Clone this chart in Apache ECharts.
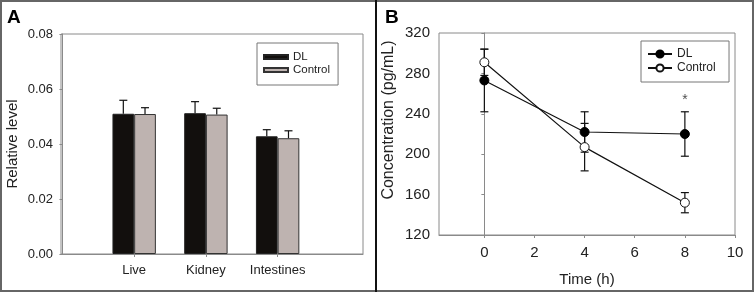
<!DOCTYPE html>
<html>
<head>
<meta charset="utf-8">
<script src="https://cdn.jsdelivr.net/npm/echarts@6/dist/echarts.min.js"></script>
<style>
  html, body { margin: 0; padding: 0; background: #fff; }
  #chart { width: 754px; height: 292px; }
</style>
</head>
<body>
<div id="chart"></div>
<script>
// panel A: relative level per tissue
const groups = ['Live', 'Kidney', 'Intestines'];
const groupPos = [1, 2, 3];
const dlLevel = [0.0510, 0.0512, 0.0428];
const dlLevelErr = [0.0049, 0.0042, 0.0024];
const ctrlLevel = [0.0509, 0.0507, 0.0421];
const ctrlLevelErr = [0.0023, 0.0023, 0.0027];

// panel B: concentration over time
const hours = [0, 4, 8];
const dlConc = [273, 222, 220];
const dlConcErr = [31, 20, 22];
const ctrlConc = [291, 207, 152];
const ctrlConcErr = [13, 23.5, 10];
const hourTicks = [0, 2, 4, 6, 8, 10];
const starAt = [8, 254];

const font = 'Liberation Sans, Arial, sans-serif';
const axisGray = '#8a8a8a';
const barW = 21.7;

let myChart = echarts.init(document.getElementById('chart'));

// one-sided error bar above a bar, shifted to the bar's centre
function upperErr(offset) {
  return function (params, api) {
    const p0 = api.coord([api.value(0), api.value(1)]);
    const p1 = api.coord([api.value(0), api.value(1) + api.value(2)]);
    const cx = p0[0] + offset;
    const st = { stroke: '#111', lineWidth: 1.2 };
    return {
      type: 'group',
      children: [
        { type: 'line', shape: { x1: cx, y1: p0[1], x2: cx, y2: p1[1] }, style: st },
        { type: 'line', shape: { x1: cx - 4, y1: p1[1], x2: cx + 4, y2: p1[1] }, style: st }
      ]
    };
  };
}

// two-sided error bar for the time course
function bothErr(params, api) {
  const x = api.value(0), y = api.value(1), e = api.value(2);
  const hi = api.coord([x, y + e]);
  const lo = api.coord([x, y - e]);
  const st = { stroke: '#111', lineWidth: 1.2 };
  return {
    type: 'group',
    children: [
      { type: 'line', shape: { x1: hi[0], y1: hi[1], x2: lo[0], y2: lo[1] }, style: st },
      { type: 'line', shape: { x1: hi[0] - 4, y1: hi[1], x2: hi[0] + 4, y2: hi[1] }, style: st },
      { type: 'line', shape: { x1: lo[0] - 4, y1: lo[1], x2: lo[0] + 4, y2: lo[1] }, style: st }
    ]
  };
}

const axisCommon = {
  axisLine: { show: true, lineStyle: { color: axisGray, width: 1 } },
  axisTick: { show: true, inside: false, length: 3, lineStyle: { color: axisGray } },
  axisLabel: { color: '#222', fontSize: 13, fontFamily: font },
  splitLine: { show: false },
  nameTextStyle: { color: '#222', fontSize: 15, fontFamily: font }
};

myChart.setOption({
  animation: false,
  backgroundColor: '#fff',
  textStyle: { fontFamily: font },
  title: [
    { text: 'A', left: 2, top: 3, textStyle: { fontSize: 19, fontWeight: 'bold', color: '#000', fontFamily: font } },
    { text: 'B', left: 380, top: 3, textStyle: { fontSize: 19, fontWeight: 'bold', color: '#000', fontFamily: font } }
  ],
  graphic: [
    { type: 'rect', shape: { x: 1, y: 1, width: 752, height: 290 }, style: { fill: 'none', stroke: '#666', lineWidth: 2 }, z: 100 },
    { type: 'line', shape: { x1: 376, y1: 0, x2: 376, y2: 292 }, style: { stroke: '#111', lineWidth: 2 }, z: 100 }
  ],
  legend: [
    {
      data: [
        { name: 'DL', icon: 'rect' },
        { name: 'Control', icon: 'rect' }
      ],
      orient: 'vertical',
      left: 257, top: 43,
      itemWidth: 24, itemHeight: 4, itemGap: 1,
      padding: [8, 8, 9, 6],
      borderColor: '#777', borderWidth: 1,
      textStyle: { fontSize: 11.5, color: '#222', fontFamily: font }
    },
    {
      data: ['DL ', 'Control '],
      orient: 'vertical',
      left: 641, top: 41,
      itemWidth: 24, itemHeight: 9, itemGap: 2,
      padding: [7, 10, 8, 6],
      borderColor: '#777', borderWidth: 1,
      textStyle: { fontSize: 12, color: '#222', fontFamily: font }
    }
  ],
  grid: [
    { left: 61, top: 34, width: 302, height: 220, show: true, borderColor: axisGray, borderWidth: 1, backgroundColor: 'transparent' },
    { left: 439, top: 33, width: 296, height: 202.5, show: true, borderColor: axisGray, borderWidth: 1, backgroundColor: 'transparent' }
  ],
  xAxis: [
    Object.assign({}, axisCommon, {
      gridIndex: 0,
      type: 'value',
      min: -0.02,
      max: 4.19,
      axisTick: Object.assign({}, axisCommon.axisTick, { customValues: groupPos }),
      axisLabel: Object.assign({}, axisCommon.axisLabel, {
        customValues: groupPos,
        margin: 10,
        formatter: function (v) { return groups[groupPos.indexOf(v)] || ''; }
      })
    }),
    Object.assign({}, axisCommon, {
      gridIndex: 1,
      type: 'value',
      min: -1.81,
      max: 10,
      name: 'Time (h)',
      nameLocation: 'middle',
      nameGap: 37,
      axisTick: Object.assign({}, axisCommon.axisTick, { customValues: hourTicks }),
      axisLabel: Object.assign({}, axisCommon.axisLabel, { customValues: hourTicks, margin: 10, fontSize: 15 })
    })
  ],
  yAxis: [
    Object.assign({}, axisCommon, {
      gridIndex: 0,
      type: 'value',
      min: 0,
      max: 0.08,
      interval: 0.02,
      name: 'Relative level',
      nameLocation: 'middle',
      nameGap: 41,
      axisLabel: Object.assign({}, axisCommon.axisLabel, {
        margin: 8,
        formatter: function (v) { return v.toFixed(2); }
      })
    }),
    Object.assign({}, axisCommon, {
      gridIndex: 1,
      type: 'value',
      min: 120,
      max: 320,
      interval: 40,
      name: 'Concentration (pg/mL)',
      nameLocation: 'middle',
      nameGap: 42,
      nameTextStyle: Object.assign({}, axisCommon.nameTextStyle, { fontSize: 16, padding: [0, 0, 0, 28] }),
      axisLabel: Object.assign({}, axisCommon.axisLabel, { margin: 9, fontSize: 15 })
    })
  ],
  series: [
    {
      name: 'DL',
      type: 'bar',
      xAxisIndex: 0, yAxisIndex: 0,
      barWidth: barW,
      barGap: '0%',
      itemStyle: { color: '#120f0d', borderColor: '#222', borderWidth: 1 },
      data: groupPos.map((x, i) => [x, dlLevel[i]])
    },
    {
      name: 'Control',
      type: 'bar',
      xAxisIndex: 0, yAxisIndex: 0,
      barWidth: barW,
      barGap: '0%',
      itemStyle: { color: '#beb3b0', borderColor: '#333', borderWidth: 1 },
      data: groupPos.map((x, i) => [x, ctrlLevel[i]])
    },
    {
      type: 'custom',
      xAxisIndex: 0, yAxisIndex: 0,
      renderItem: upperErr(-barW / 2),
      z: 5,
      data: groupPos.map((x, i) => [x, dlLevel[i], dlLevelErr[i]])
    },
    {
      type: 'custom',
      xAxisIndex: 0, yAxisIndex: 0,
      renderItem: upperErr(barW / 2),
      z: 5,
      data: groupPos.map((x, i) => [x, ctrlLevel[i], ctrlLevelErr[i]])
    },
    {
      type: 'custom',
      xAxisIndex: 1, yAxisIndex: 1,
      renderItem: bothErr,
      z: 1,
      data: hours.map((x, i) => [x, dlConc[i], dlConcErr[i]])
    },
    {
      type: 'custom',
      xAxisIndex: 1, yAxisIndex: 1,
      renderItem: bothErr,
      z: 1,
      data: hours.map((x, i) => [x, ctrlConc[i], ctrlConcErr[i]])
    },
    {
      name: 'DL ',
      type: 'line',
      xAxisIndex: 1, yAxisIndex: 1,
      symbol: 'circle',
      symbolSize: 9,
      z: 3,
      lineStyle: { color: '#111', width: 1.2 },
      itemStyle: { color: '#000', borderColor: '#000', borderWidth: 1 },
      data: hours.map((x, i) => [x, dlConc[i]])
    },
    {
      name: 'Control ',
      type: 'line',
      xAxisIndex: 1, yAxisIndex: 1,
      symbol: 'circle',
      symbolSize: 9,
      z: 4,
      lineStyle: { color: '#111', width: 1.2 },
      itemStyle: { color: '#fff', borderColor: '#111', borderWidth: 1 },
      data: hours.map((x, i) => [x, ctrlConc[i]])
    },
    {
      type: 'scatter',
      xAxisIndex: 1, yAxisIndex: 1,
      symbolSize: 0,
      label: { show: true, position: 'inside', formatter: '*', fontSize: 14, color: '#222', fontFamily: font },
      data: [starAt]
    }
  ]
});
</script>
</body>
</html>
